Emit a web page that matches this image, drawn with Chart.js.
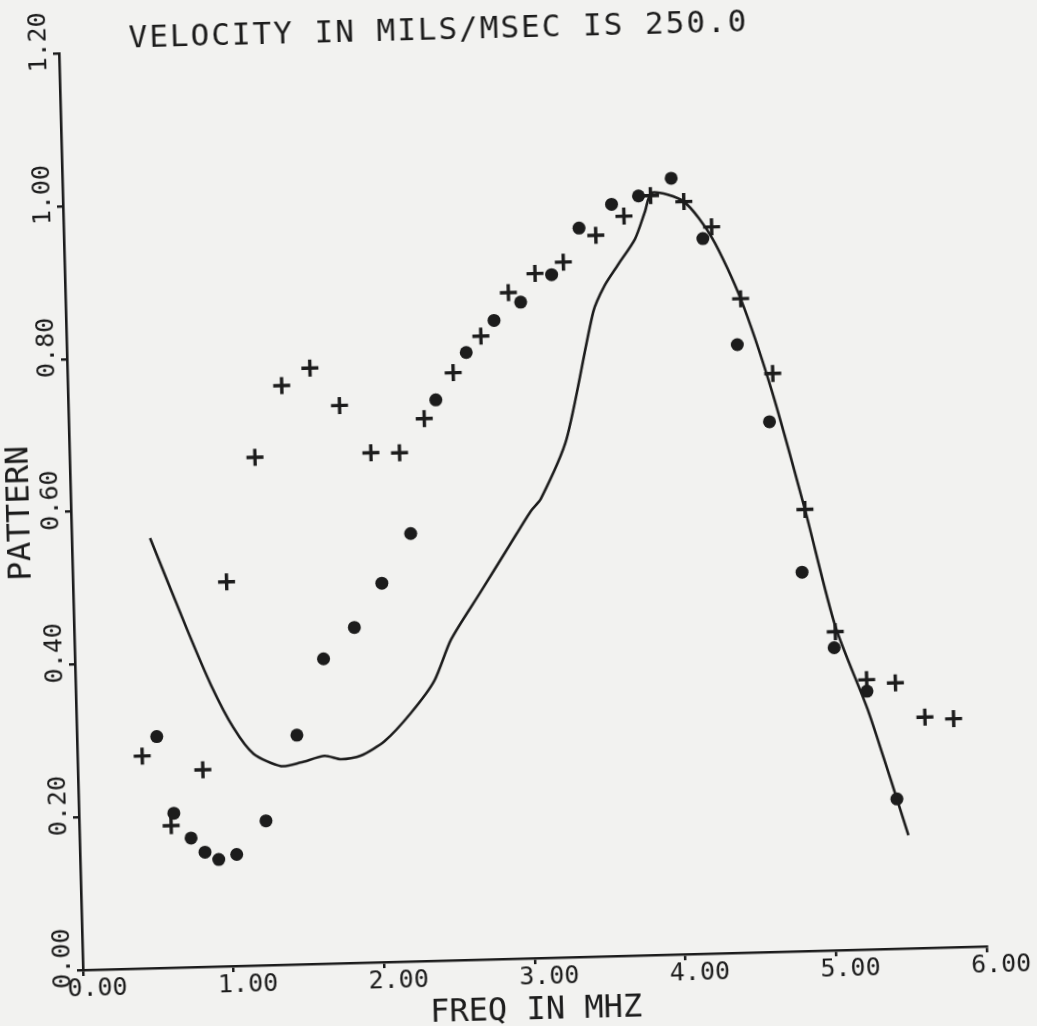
<!DOCTYPE html>
<html>
<head>
<meta charset="utf-8">
<script src="https://cdn.jsdelivr.net/npm/chart.js@4.4.0/dist/chart.umd.min.js"></script>
<style>
  html, body { margin: 0; padding: 0; width: 1037px; height: 1026px; overflow: hidden; background: #f2f2f0; }
  #wrap { position: absolute; left: 0; top: 0; width: 1070px; height: 1060px;
          transform-origin: 83px 970px; transform: rotate(-1.5deg); }
  canvas { display: block; }
</style>
</head>
<body>
<div id="wrap"><canvas id="c" width="1070" height="1060"></canvas></div>
<script>
// ---- text ----
const titleText = 'VELOCITY IN MILS/MSEC IS 250.0';
const xAxisTitle = 'FREQ IN MHZ';
const yAxisTitle = 'PATTERN';
const xTickLabels = ['0.00', '1.00', '2.00', '3.00', '4.00', '5.00', '6.00'];
const yTickLabels = ['0.00', '0.20', '0.40', '0.60', '0.80', '1.00', '1.20'];

// ---- data: filled circles ----
const circleFreq = [0.53, 0.63, 0.74, 0.83, 0.92, 1.04, 1.24, 1.46, 1.65, 1.86, 2.05, 2.25, 2.44, 2.65,
                    2.84, 3.02, 3.23, 3.42, 3.64, 3.82, 4.04, 4.24, 4.45, 4.65, 4.84, 5.04, 5.25, 5.43];
const circleVal  = [0.303, 0.202, 0.169, 0.150, 0.140, 0.146, 0.189, 0.300, 0.399, 0.439, 0.496, 0.560, 0.734, 0.795,
                    0.836, 0.859, 0.894, 0.954, 0.984, 0.994, 1.016, 0.936, 0.796, 0.694, 0.496, 0.396, 0.338, 0.196];

// ---- data: plus markers ----
const plusFreq = [0.43, 0.61, 0.83, 1.02, 1.23, 1.42, 1.61, 1.80, 2.00, 2.19, 2.36, 2.56, 2.75, 2.94, 3.12,
                  3.31, 3.53, 3.72, 3.90, 4.12, 4.30, 4.48, 4.68, 4.87, 5.05, 5.25, 5.44, 5.63, 5.82];
const plusVal  = [0.278, 0.186, 0.258, 0.503, 0.665, 0.758, 0.780, 0.730, 0.667, 0.666, 0.710, 0.769, 0.816, 0.872, 0.896,
                  0.910, 0.944, 0.968, 0.994, 0.985, 0.951, 0.856, 0.757, 0.578, 0.417, 0.353, 0.348, 0.302, 0.299];

// ---- data: solid curve ----
const curveFreq = [0.52, 0.75, 0.90, 1.04, 1.17, 1.35, 1.48, 1.64, 1.75, 1.88, 2.04, 2.22, 2.38, 2.50, 2.70, 2.90,
                   3.05, 3.12, 3.30, 3.50, 3.58, 3.67, 3.79, 3.86, 3.91, 4.12, 4.30, 4.48, 4.67, 4.87, 5.05, 5.25,
                   5.35, 5.43, 5.50];
const curveVal  = [0.563, 0.442, 0.368, 0.312, 0.277, 0.260, 0.264, 0.272, 0.267, 0.271, 0.289, 0.325, 0.366, 0.420, 0.480, 0.540,
                   0.585, 0.601, 0.678, 0.844, 0.878, 0.904, 0.938, 0.973, 0.998, 0.985, 0.937, 0.856, 0.735, 0.578, 0.425, 0.315,
                   0.250, 0.196, 0.148];

const ink = '#1c1c1c';
const mono = '"DejaVu Sans Mono", "Liberation Mono", monospace';
const pts = (xs, ys) => xs.map((x, i) => ({ x: x, y: ys[i] }));

const titlePlugin = {
  id: 'plotTitle',
  afterDraw(chart) {
    const { ctx, chartArea } = chart;
    ctx.save();
    ctx.font = '31px ' + mono;
    if ('letterSpacing' in ctx) ctx.letterSpacing = '2px';
    ctx.fillStyle = ink;
    ctx.textBaseline = 'alphabetic';
    ctx.textAlign = 'left';
    ctx.fillText(titleText, chartArea.left + 70, chartArea.top - 4);
    ctx.restore();
  }
};

new Chart(document.getElementById('c'), {
  type: 'scatter',
  data: {
    datasets: [
      { label: 'curve', data: pts(curveFreq, curveVal), showLine: true, tension: 0.25,
        borderColor: ink, borderWidth: 2.6, pointRadius: 0, fill: false },
      { label: 'circles', data: pts(circleFreq, circleVal), pointStyle: 'circle', pointRadius: 6.5,
        backgroundColor: ink, borderColor: ink, borderWidth: 0 },
      { label: 'plus', data: pts(plusFreq, plusVal), pointStyle: 'cross', pointRadius: 8.5,
        borderColor: ink, borderWidth: 3.4, backgroundColor: ink }
    ]
  },
  plugins: [titlePlugin],
  options: {
    responsive: false,
    animation: false,
    events: [],
    layout: { padding: { left: 0, right: 83, top: 53.4, bottom: 0 } },
    plugins: { legend: { display: false }, tooltip: { enabled: false }, title: { display: false } },
    scales: {
      x: {
        type: 'linear', min: 0, max: 6,
        afterFit: s => { s.height = 90; },
        ticks: { stepSize: 1, color: ink, padding: 1, labelOffset: 14, maxRotation: 0,
                 font: { family: mono, size: 25, lineHeight: 1 },
                 callback: (v, i) => xTickLabels[i] },
        grid: { display: true, drawOnChartArea: false, drawTicks: true, tickLength: 6, color: ink, lineWidth: 2.5 },
        border: { display: true, color: ink, width: 2.6 },
        title: { display: true, text: xAxisTitle, color: ink, padding: { top: 0, bottom: 21 },
                 font: { family: mono, size: 32, lineHeight: 1 } }
      },
      y: {
        type: 'linear', min: 0, max: 1.2,
        afterFit: s => { s.width = 83; },
        ticks: { stepSize: 0.2, color: ink, padding: 14, labelOffset: -42, minRotation: 90, maxRotation: 90,
                 crossAlign: 'near',
                 font: { family: mono, size: 25, lineHeight: 1 },
                 callback: (v, i) => yTickLabels[i] },
        grid: { display: true, drawOnChartArea: false, drawTicks: true, tickLength: 6, color: ink, lineWidth: 2.5 },
        border: { display: true, color: ink, width: 2.6 },
        title: { display: true, text: yAxisTitle, color: ink, padding: { top: 17, bottom: 0 },
                 font: { family: mono, size: 32, lineHeight: 1 } }
      }
    }
  }
});
</script>
</body>
</html>
